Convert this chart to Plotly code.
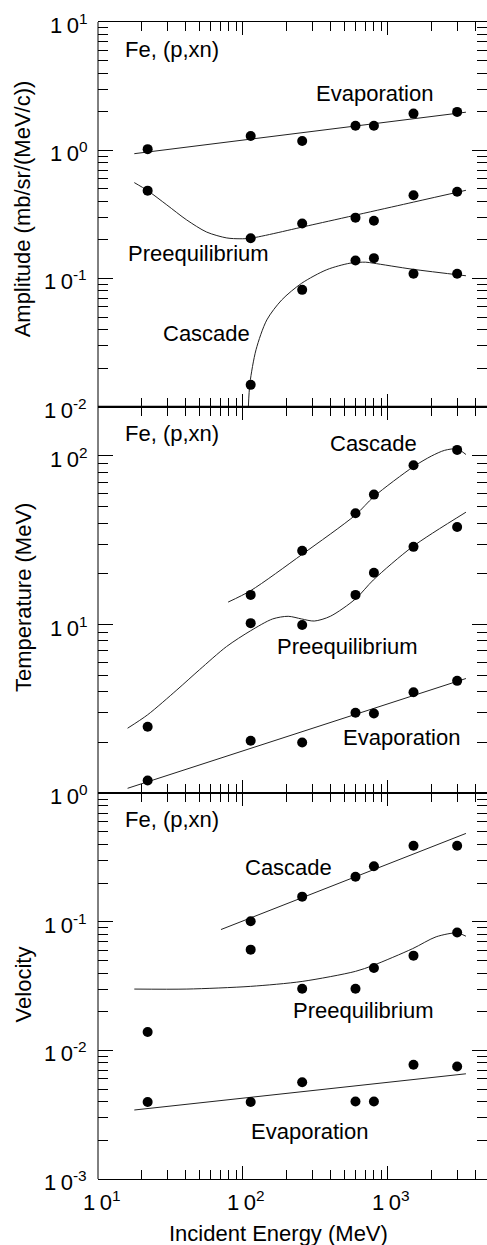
import plotly.graph_objects as go

# ---- measured data: Fe(p,xn) moving-source fit parameters ----
energy = [22, 113, 256, 597, 800, 1500, 3000]          # incident energy (MeV)
energy_casc = [113, 256, 597, 800, 1500, 3000]

amp_evap = [1.02, 1.29, 1.18, 1.55, 1.55, 1.93, 1.99]
amp_preeq = [0.484, 0.206, 0.268, 0.298, 0.282, 0.446, 0.475]
amp_casc = [0.0148, 0.0815, 0.138, 0.144, 0.1087, 0.1087]

temp_evap = [1.19, 2.05, 2.00, 3.00, 2.97, 3.97, 4.64]
temp_preeq = [2.48, 10.2, 9.95, 15.0, 20.3, 28.9, 37.9]
temp_casc = [15.0, 27.4, 45.7, 59.0, 88.1, 108.6]

vel_evap = [0.00397, 0.00397, 0.00566, 0.0040, 0.0040, 0.00773, 0.0075]
vel_preeq = [0.0139, 0.0608, 0.0302, 0.0302, 0.0437, 0.0546, 0.0826]
vel_casc = [0.101, 0.157, 0.224, 0.271, 0.391, 0.391]

# ---- systematics curves ----
amp_evap_fit_E = [17.8, 3450]
amp_evap_fit = [0.94, 1.98]
amp_preeq_fit_E = [17.8, 22, 29.8, 40.9, 56.2, 77.3, 95.3, 113, 300, 1500, 3450]
amp_preeq_fit = [0.559, 0.484, 0.375, 0.286, 0.230, 0.207, 0.204, 0.206, 0.262, 0.394, 0.487]
amp_casc_fit_E = [108.9, 111.7, 123, 146, 185, 254, 378, 547, 700, 793, 1480, 3450]
amp_casc_fit = [0.0100, 0.0153, 0.0278, 0.0475, 0.068, 0.0918, 0.117, 0.1316, 0.134, 0.1316, 0.118, 0.105]

temp_evap_fit_E = [16, 3450]
temp_evap_fit = [1.07, 4.79]
temp_preeq_fit_E = [16, 22, 35, 50, 77, 113, 160, 205, 254, 310, 400, 597, 793, 1480, 3450]
temp_preeq_fit = [2.43, 2.92, 4.1, 5.39, 7.41, 9.2, 10.8, 11.2, 10.8, 10.5, 11.2, 14.2, 18.4, 29.0, 46.4]
temp_casc_fit_E = [79, 113, 256, 597, 800, 1500, 2000, 2460, 3000, 3450]
temp_casc_fit = [13.6, 15.9, 26.1, 44.7, 57.4, 86.4, 100, 108, 110, 102]

vel_evap_fit_E = [17.8, 3450]
vel_evap_fit = [0.00344, 0.00658]
vel_preeq_fit_E = [17.8, 41, 113, 256, 597, 793, 1480, 2150, 3000, 3450]
vel_preeq_fit = [0.030, 0.030, 0.0315, 0.0344, 0.0412, 0.0459, 0.0619, 0.0765, 0.082, 0.0773]
vel_casc_fit_E = [70.5, 3450]
vel_casc_fit = [0.0871, 0.487]

# ---- decade tick labels (exponents) ----
x_decades = [1, 2, 3]
amp_decades = [-2, -1, 0, 1]
temp_decades = [0, 1, 2]
vel_decades = [-3, -2, -1]

FONT = "Liberation Sans, Arial, Helvetica, sans-serif"
TSP = "\u2009"

fig = go.Figure()


def add_points(x, y, ax):
    fig.add_trace(go.Scatter(x=x, y=y, mode="markers", xaxis=ax[0], yaxis=ax[1],
                             marker=dict(color="black", size=10, line=dict(width=0)),
                             showlegend=False, hoverinfo="x+y"))


def add_curve(x, y, ax):
    fig.add_trace(go.Scatter(x=x, y=y, mode="lines", xaxis=ax[0], yaxis=ax[1],
                             line=dict(color="#222222", width=1, shape="spline", smoothing=0.8),
                             showlegend=False, hoverinfo="skip"))


P1, P2, P3 = ("x", "y"), ("x2", "y2"), ("x3", "y3")

add_curve(amp_evap_fit_E, amp_evap_fit, P1)
add_curve(amp_preeq_fit_E, amp_preeq_fit, P1)
add_curve(amp_casc_fit_E, amp_casc_fit, P1)
add_points(energy, amp_evap, P1)
add_points(energy, amp_preeq, P1)
add_points(energy_casc, amp_casc, P1)

add_curve(temp_evap_fit_E, temp_evap_fit, P2)
add_curve(temp_preeq_fit_E, temp_preeq_fit, P2)
add_curve(temp_casc_fit_E, temp_casc_fit, P2)
add_points(energy, temp_evap, P2)
add_points(energy, temp_preeq, P2)
add_points(energy_casc, temp_casc, P2)

add_curve(vel_evap_fit_E, vel_evap_fit, P3)
add_curve(vel_preeq_fit_E, vel_preeq_fit, P3)
add_curve(vel_casc_fit_E, vel_casc_fit, P3)
add_points(energy, vel_evap, P3)
add_points(energy, vel_preeq, P3)
add_points(energy_casc, vel_casc, P3)


def minor_vals(lo, hi):
    return [m * 10.0 ** d for d in range(lo, hi) for m in range(2, 10)]


def pow_label(e):
    return f"1{TSP}0<sup>{e}</sup>"


XMAX = 3.683
x_common = dict(type="log", range=[1, XMAX], showgrid=False, zeroline=False,
                showline=True, linecolor="black", linewidth=1, mirror="ticks",
                ticks="inside", ticklen=13, tickwidth=1, tickcolor="black",
                tickmode="array", tickvals=[10 ** d for d in x_decades],
                showticklabels=False,
                minor=dict(tickmode="array", tickvals=minor_vals(1, 4), ticks="inside",
                           ticklen=9, tickwidth=1, tickcolor="black", showgrid=False))

y_common = dict(type="log", showgrid=False, zeroline=False,
                showline=False, mirror="ticks",
                ticks="inside", ticklen=15, tickwidth=1, tickcolor="black",
                tickmode="array", showticklabels=False,
                minor=dict(tickmode="array", ticks="inside",
                           ticklen=10, tickwidth=1, tickcolor="black", showgrid=False))

D1 = [0.6675, 1.0]
D2 = [0.3334, 0.6675]
D3 = [0.0, 0.3334]

fig.update_layout(
    width=487, height=1245,
    margin=dict(l=98, r=0, t=22, b=66),
    paper_bgcolor="white", plot_bgcolor="white",
    showlegend=False,
    font=dict(family=FONT, size=22, color="black"),
    xaxis=dict(x_common, anchor="y", domain=[0, 1]),
    xaxis2=dict(x_common, anchor="y2", domain=[0, 1]),
    xaxis3=dict(x_common, anchor="y3", domain=[0, 1]),
    yaxis=dict(y_common, anchor="x", domain=D1, range=[-2, 1],
               tickvals=[10.0 ** d for d in amp_decades],
               minor=dict(y_common["minor"], tickvals=minor_vals(-2, 1))),
    yaxis2=dict(y_common, anchor="x2", domain=D2, range=[0, 2.292],
                tickvals=[10.0 ** d for d in temp_decades],
                minor=dict(y_common["minor"], tickvals=minor_vals(0, 3))),
    yaxis3=dict(y_common, anchor="x3", domain=D3, range=[-3, 0],
                tickvals=[10.0 ** d for d in vel_decades],
                minor=dict(y_common["minor"], tickvals=minor_vals(-3, 0))),
)

# left frame edge and the heavier rule between the top two panels
fig.add_shape(type="line", xref="paper", yref="paper", x0=0, x1=0, y0=0, y1=1,
              line=dict(color="black", width=1))
fig.add_shape(type="line", xref="paper", yref="paper", x0=0, x1=1, y0=D1[0], y1=D1[0],
              line=dict(color="black", width=2))

TXT = dict(family=FONT, size=22, color="black")

# decade labels beside the axes
for yr, decs in (("y", amp_decades), ("y2", temp_decades), ("y3", vel_decades)):
    for d in decs:
        fig.add_annotation(text=pow_label(d), x=-0.023, y=d, xref="paper", yref=yr,
                           xanchor="right", yanchor="middle", showarrow=False,
                           yshift=-2, font=TXT)
for d in x_decades:
    fig.add_annotation(text=pow_label(d), x=d, y=-0.019, xref="x3", yref="paper",
                       xanchor="center", yanchor="middle", showarrow=False,
                       xshift=3, font=TXT)


def label(text, x, y, xr, yr, anchor="center"):
    fig.add_annotation(text=text, x=x, y=y, xref=xr, yref=yr, showarrow=False,
                       xanchor=anchor, yanchor="middle", font=TXT)


# panel 1
label("Fe, (p,xn)", 1.172, 0.782, "x", "y", "left")
label("Evaporation", 2.905, 0.444, "x", "y")
label("Preequilibrium", 1.692, -0.803, "x", "y")
label("Cascade", 1.748, -1.426, "x", "y")
# panel 2
label("Fe, (p,xn)", 1.172, 2.135, "x2", "y2", "left")
label("Cascade", 2.898, 2.075, "x2", "y2")
label("Preequilibrium", 2.720, 0.870, "x2", "y2")
label("Evaporation", 3.091, 0.333, "x2", "y2")
# panel 3
label("Fe, (p,xn)", 1.172, -0.208, "x3", "y3", "left")
label("Cascade", 2.316, -0.574, "x3", "y3")
label("Preequilibrium", 2.834, -1.689, "x3", "y3")
label("Evaporation", 2.462, -2.632, "x3", "y3")

# axis titles
for text, yc in (("Amplitude (mb/sr/(MeV/c))", 0.8384),
                 ("Temperature (MeV)", 0.5033),
                 ("Velocity", 0.1685)):
    fig.add_annotation(text=text, x=-0.1918, y=yc, xref="paper", yref="paper",
                       textangle=-90, showarrow=False, xanchor="center", yanchor="middle",
                       font=TXT)
fig.add_annotation(text="Incident Energy (MeV)", x=0.463, y=-0.0475, xref="paper", yref="paper",
                   showarrow=False, xanchor="center", yanchor="middle", font=TXT)

fig.write_html("out.html")
